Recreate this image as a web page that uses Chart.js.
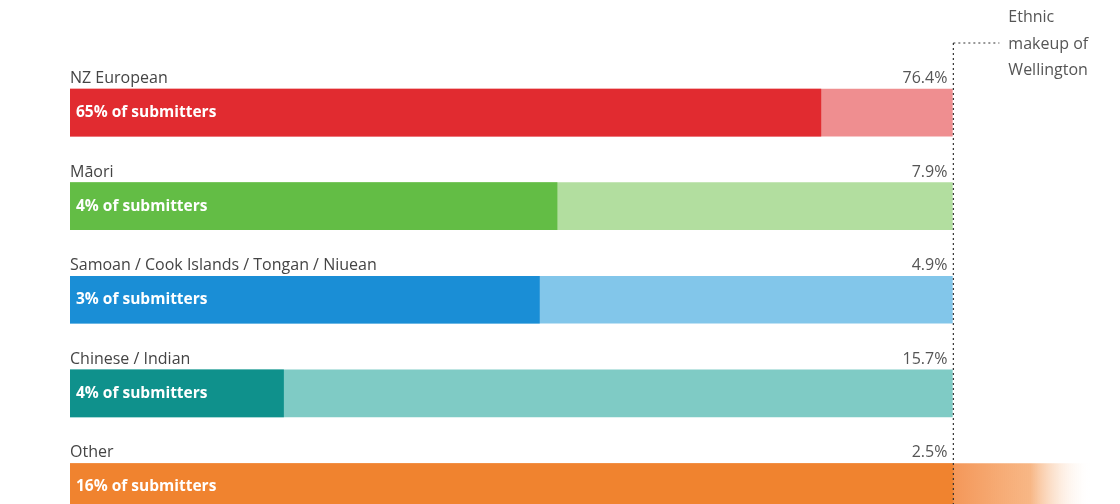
<!DOCTYPE html>
<html>
<head>
<meta charset="utf-8">
<script src="https://cdn.jsdelivr.net/npm/chart.js@4/dist/chart.umd.min.js"></script>
<style>
  html, body { margin: 0; padding: 0; background: #fff; }
  #wrap { width: 1120px; height: 504px; position: relative; }
</style>
</head>
<body>
<div id="wrap"><canvas id="chart"></canvas></div>
<script>
const categories = ['NZ European', 'Māori', 'Samoan / Cook Islands / Tongan / Niuean', 'Chinese / Indian', 'Other'];
const submitterPct = [65, 4, 3, 4, 16];
const wellingtonPct = [76.4, 7.9, 4.9, 15.7, 2.5];
// dark bar length as a share of each group's Wellington bar
const submitterBar = [85.1, 55.2, 53.2, 24.2, 119];
const wellingtonBar = [100, 100, 100, 100, 100];
const noteLines = ['Ethnic', 'makeup of', 'Wellington'];

const darkColors = ['#e12b30', '#63bd45', '#1a8ed6', '#0f918c', '#f0832f'];
const lightColors = ['#ef8e90', '#b2de9f', '#82c6ea', '#7fcbc5', '#f5a062'];

const FONT = '"Open Sans", "Noto Sans", sans-serif';

// category names, values and the bar captions
const labelsPlugin = {
  id: 'labels',
  afterDatasetsDraw(chart) {
    const { ctx, scales: { x, y } } = chart;
    const right = x.getPixelForValue(100);
    const left = x.getPixelForValue(0);
    ctx.save();
    categories.forEach((name, i) => {
      const cy = y.getPixelForValue(i);
      const top = cy - 23.5;
      ctx.font = '16px ' + FONT;
      ctx.textBaseline = 'alphabetic';
      ctx.fillStyle = '#444';
      ctx.textAlign = 'left';
      ctx.fillText(name, left, top - 6);
      ctx.fillStyle = '#555';
      ctx.textAlign = 'right';
      ctx.fillText(wellingtonPct[i].toFixed(1) + '%', right - 5, top - 6);
      ctx.font = 'bold 15.5px ' + FONT;
      ctx.fillStyle = '#fff';
      ctx.textAlign = 'left';
      ctx.textBaseline = 'middle';
      ctx.fillText(submitterPct[i] + '% of submitters', left + 6, cy);
    });

    // dotted marker for the Wellington line
    ctx.strokeStyle = '#333';
    ctx.lineWidth = 1.2;
    ctx.setLineDash([2, 3]);
    ctx.beginPath();
    ctx.moveTo(right + 1, 43);
    ctx.lineTo(right + 1, chart.height);
    ctx.moveTo(right + 1, 43);
    ctx.lineTo(right + 47, 43);
    ctx.stroke();
    ctx.setLineDash([]);

    ctx.font = '16px ' + FONT;
    ctx.fillStyle = '#555';
    ctx.textAlign = 'left';
    ctx.textBaseline = 'alphabetic';
    noteLines.forEach((t, k) => ctx.fillText(t, right + 56, 22 + k * 26.5));
    ctx.restore();
  }
};

function darkFill(context) {
  const i = context.dataIndex;
  if (i !== 4) return darkColors[i];
  const chart = context.chart;
  if (!chart.chartArea) return darkColors[i];
  const w = chart.width;
  const p = chart.scales.x.getPixelForValue(100) / w;
  const g = chart.ctx.createLinearGradient(0, 0, w, 0);
  g.addColorStop(0, darkColors[i]);
  g.addColorStop(p, darkColors[i]);
  g.addColorStop(p + 0.002, '#f4985a');
  g.addColorStop(0.92, 'rgba(246,170,112,0.85)');
  g.addColorStop(0.975, 'rgba(255,255,255,0)');
  return g;
}

new Chart(document.getElementById('chart'), {
  type: 'bar',
  data: {
    datasets: [
      {
        label: 'Submitters',
        data: submitterBar.map((v, i) => ({ x: v, y: i })),
        backgroundColor: darkFill,
        barThickness: 47,
        grouped: false,
        borderWidth: 0
      },
      {
        label: 'Wellington',
        data: wellingtonBar.map((v, i) => ({ x: v, y: i })),
        backgroundColor: lightColors,
        barThickness: 47,
        grouped: false,
        borderWidth: 0
      }
    ]
  },
  options: {
    indexAxis: 'y',
    responsive: true,
    maintainAspectRatio: false,
    animation: false,
    layout: { padding: { left: 70, right: 0, top: 0, bottom: 0 } },
    scales: {
      x: { type: 'linear', min: 0, max: 119, offset: false, display: false },
      y: { type: 'linear', reverse: true, min: -1.203, max: 4.182, offset: false, display: false }
    },
    plugins: {
      legend: { display: false },
      tooltip: { enabled: false }
    }
  },
  plugins: [labelsPlugin]
});
</script>
</body>
</html>
